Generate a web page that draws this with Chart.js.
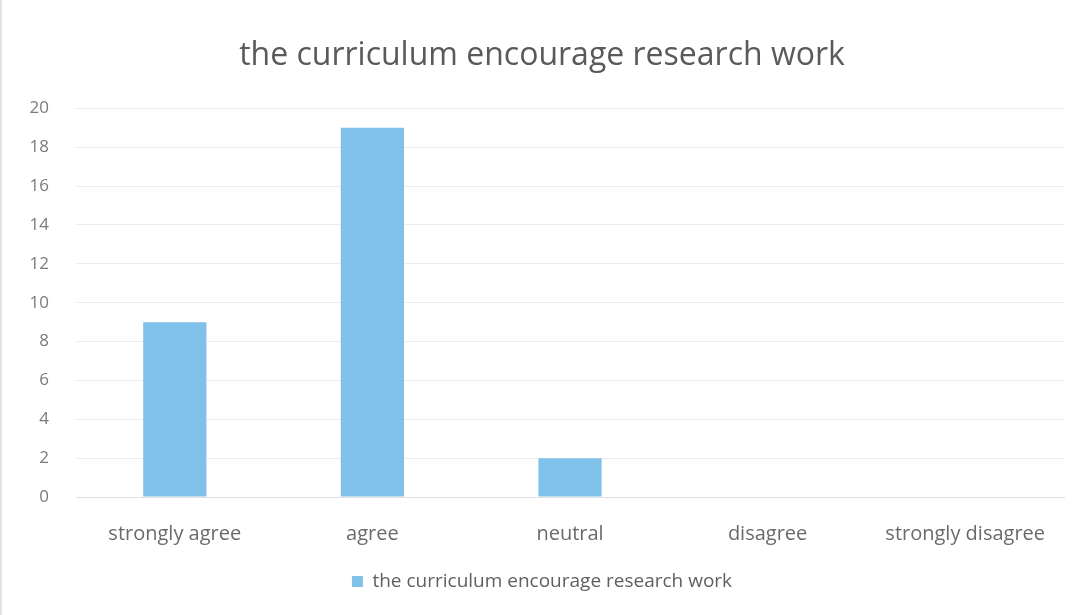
<!DOCTYPE html>
<html>
<head>
<meta charset="utf-8">
<script src="https://cdn.jsdelivr.net/npm/chart.js@4/dist/chart.umd.min.js"></script>
<style>
  html, body { margin: 0; padding: 0; background: #fff; }
  #wrap { position: relative; width: 1086px; height: 615px; box-sizing: border-box; border-left: 2px solid #e4e4e4; }
  canvas { display: block; }
</style>
</head>
<body>
<div id="wrap"><canvas id="chart" width="1084" height="615"></canvas></div>
<script>
const categories = ["strongly agree", "agree", "neutral", "disagree", "strongly disagree"];
const values = [9, 19, 2, 0, 0];
const seriesName = "the curriculum encourage research work";
const yTicks = [0, 2, 4, 6, 8, 10, 12, 14, 16, 18, 20];

const fontFamily = "'Open Sans', 'Noto Sans', sans-serif";
const ctx = document.getElementById("chart");

new Chart(ctx, {
    type: "bar",
    data: {
        labels: categories,
        datasets: [{
            label: seriesName,
            data: values,
            backgroundColor: "#80c1ea",
            categoryPercentage: 1,
            barPercentage: 0.32
        }]
    },
    options: {
        responsive: false,
        animation: false,
        layout: { padding: { left: 18, right: 22, top: 37, bottom: 14 } },
        plugins: {
            title: {
                display: true,
                text: seriesName,
                color: "#5a5a5a",
                font: { family: fontFamily, size: 32, weight: "normal" },
                padding: { top: 0, bottom: 33 }
            },
            legend: {
                position: "bottom",
                labels: {
                    color: "#5f5f5f",
                    font: { family: fontFamily, size: 19 },
                    boxWidth: 11,
                    boxHeight: 11,
                    padding: 10
                }
            },
            tooltip: { enabled: false }
        },
        scales: {
            x: {
                grid: { display: false },
                border: { color: "#e0e0e0" },
                ticks: { color: "#6a6a6a", font: { family: fontFamily, size: 20 }, padding: 17 },
                afterFit: function (scale) { scale.height = 65; }
            },
            y: {
                min: 0,
                max: 20,
                afterBuildTicks: function (scale) {
                    scale.ticks = yTicks.map(v => ({ value: v }));
                },
                grid: { color: "#ececec", drawTicks: false },
                border: { display: false },
                ticks: { color: "#7a7a7a", font: { family: fontFamily, size: 17 }, padding: 27 },
                afterFit: function (scale) { scale.width = 56; }
            }
        }
    }
});
</script>
</body>
</html>
